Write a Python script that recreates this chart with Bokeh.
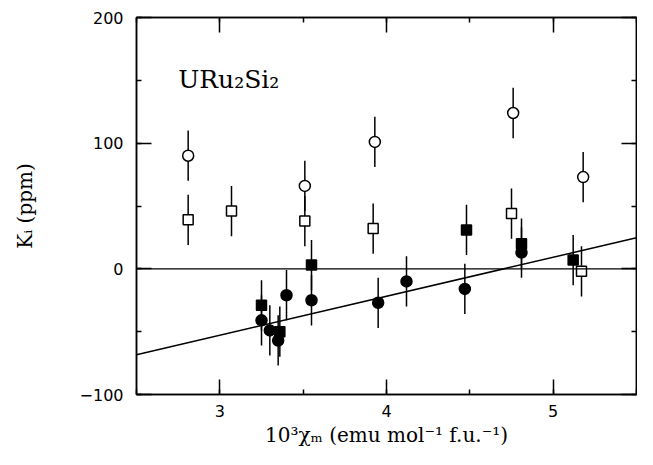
import numpy as np
from bokeh.plotting import figure
from bokeh.models import (Range1d, SingleIntervalTicker, LinearAxis, Span, Label,
                          ColumnDataSource, CustomJSTickFormatter)
from bokeh.embed import file_html
from bokeh.resources import INLINE

# ---- data ----
oc_x = [2.81, 3.51, 3.93, 4.76, 5.18]
oc_y = [90, 66, 101, 124, 73]
oc_err = [20, 20, 20, 20, 20]

os_x = [2.81, 3.07, 3.51, 3.92, 4.75, 5.17]
os_y = [39, 46, 38, 32, 44, -2]
os_err = [20, 20, 20, 20, 20, 20]

fs_x = [3.25, 3.36, 3.55, 4.48, 4.81, 5.12]
fs_y = [-29, -50, 3, 31, 20, 7]
fs_err = [20, 20, 20, 20, 20, 20]

fc_x = [3.25, 3.30, 3.35, 3.40, 3.55, 3.95, 4.12, 4.47, 4.81]
fc_y = [-41, -49, -57, -21, -25, -27, -10, -16, 13]
fc_err = [20, 20, 20, 20, 20, 20, 20, 20, 20]

fit_slope = 31.0
fit_intercept = -145.8

x_min, x_max = 2.5, 5.5
y_min, y_max = -100, 200

SERIF = "DejaVu Serif"
SANS = "DejaVu Sans"

p = figure(width=637, height=449, output_backend="svg", toolbar_location=None,
           x_range=Range1d(x_min, x_max), y_range=Range1d(y_min, y_max),
           min_border_left=136, min_border_right=1, min_border_top=17,
           min_border_bottom=50, x_axis_type=None, y_axis_type=None)
p.background_fill_color = "white"
p.border_fill_color = "white"
p.outline_line_color = "black"
p.outline_line_width = 1.5
p.xgrid.visible = False
p.ygrid.visible = False

def style_axis(ax, show_labels):
    ax.axis_line_color = "black"
    ax.axis_line_width = 1.5
    ax.major_tick_in = 15
    ax.major_tick_out = 0
    ax.minor_tick_in = 5
    ax.minor_tick_out = 0
    ax.major_tick_line_width = 1.5
    ax.minor_tick_line_width = 1.5
    ax.major_tick_line_color = "black"
    ax.minor_tick_line_color = "black"
    ax.major_label_text_font = SANS
    ax.major_label_text_font_size = "16px"
    ax.major_label_text_color = "black"
    ax.axis_label_text_font = SERIF
    ax.axis_label_text_font_style = "normal"
    ax.axis_label_text_font_size = "20px"
    ax.axis_label_text_color = "black"
    if not show_labels:
        ax.formatter = CustomJSTickFormatter(code="return ''")
        ax.major_label_standoff = 0

xt = lambda: SingleIntervalTicker(interval=1, num_minor_ticks=2)
yt = lambda: SingleIntervalTicker(interval=100, num_minor_ticks=2)

xb = LinearAxis(ticker=xt(), axis_label="10³χₘ (emu mol⁻¹ f.u.⁻¹)")
style_axis(xb, True)
xb.major_label_standoff = 10
xb.axis_label_standoff = 3
p.add_layout(xb, "below")

xa = LinearAxis(ticker=xt())
style_axis(xa, False)
p.add_layout(xa, "above")

yl = LinearAxis(ticker=yt(), axis_label="Kᵢ (ppm)")
style_axis(yl, True)
yl.major_label_standoff = 13
yl.axis_label_standoff = 40
yl.major_label_overrides = {-100: "−100"}
p.add_layout(yl, "left")

yr = LinearAxis(ticker=yt())
style_axis(yr, False)
p.add_layout(yr, "right")

# zero line
p.add_layout(Span(location=0, dimension="width", line_color="black", line_width=1.3))

# fit line
fx = np.array([x_min, x_max])
p.line(fx, fit_intercept + fit_slope * fx, line_color="black", line_width=1.5)

def series(xs, ys, errs, marker, filled, size):
    xs = np.array(xs, float); ys = np.array(ys, float); errs = np.array(errs, float)
    src = ColumnDataSource(dict(x=xs, y=ys, lo=ys - errs, hi=ys + errs))
    p.segment(x0="x", y0="lo", x1="x", y1="hi", source=src, line_color="black", line_width=1.5)
    p.scatter(x="x", y="y", source=src, marker=marker, size=size,
              fill_color="black" if filled else "white", line_color="black", line_width=1.5)

series(oc_x, oc_y, oc_err, "circle", False, 11)
series(os_x, os_y, os_err, "square", False, 10)
series(fs_x, fs_y, fs_err, "square", True, 10)
series(fc_x, fc_y, fc_err, "circle", True, 11)

p.add_layout(Label(x=2.75, y=151, text="URu₂Si₂", text_font=SERIF, text_font_size="25px",
                   text_color="black", text_baseline="alphabetic", text_align="left"))

open("out.html", "w").write(file_html(p, INLINE))
